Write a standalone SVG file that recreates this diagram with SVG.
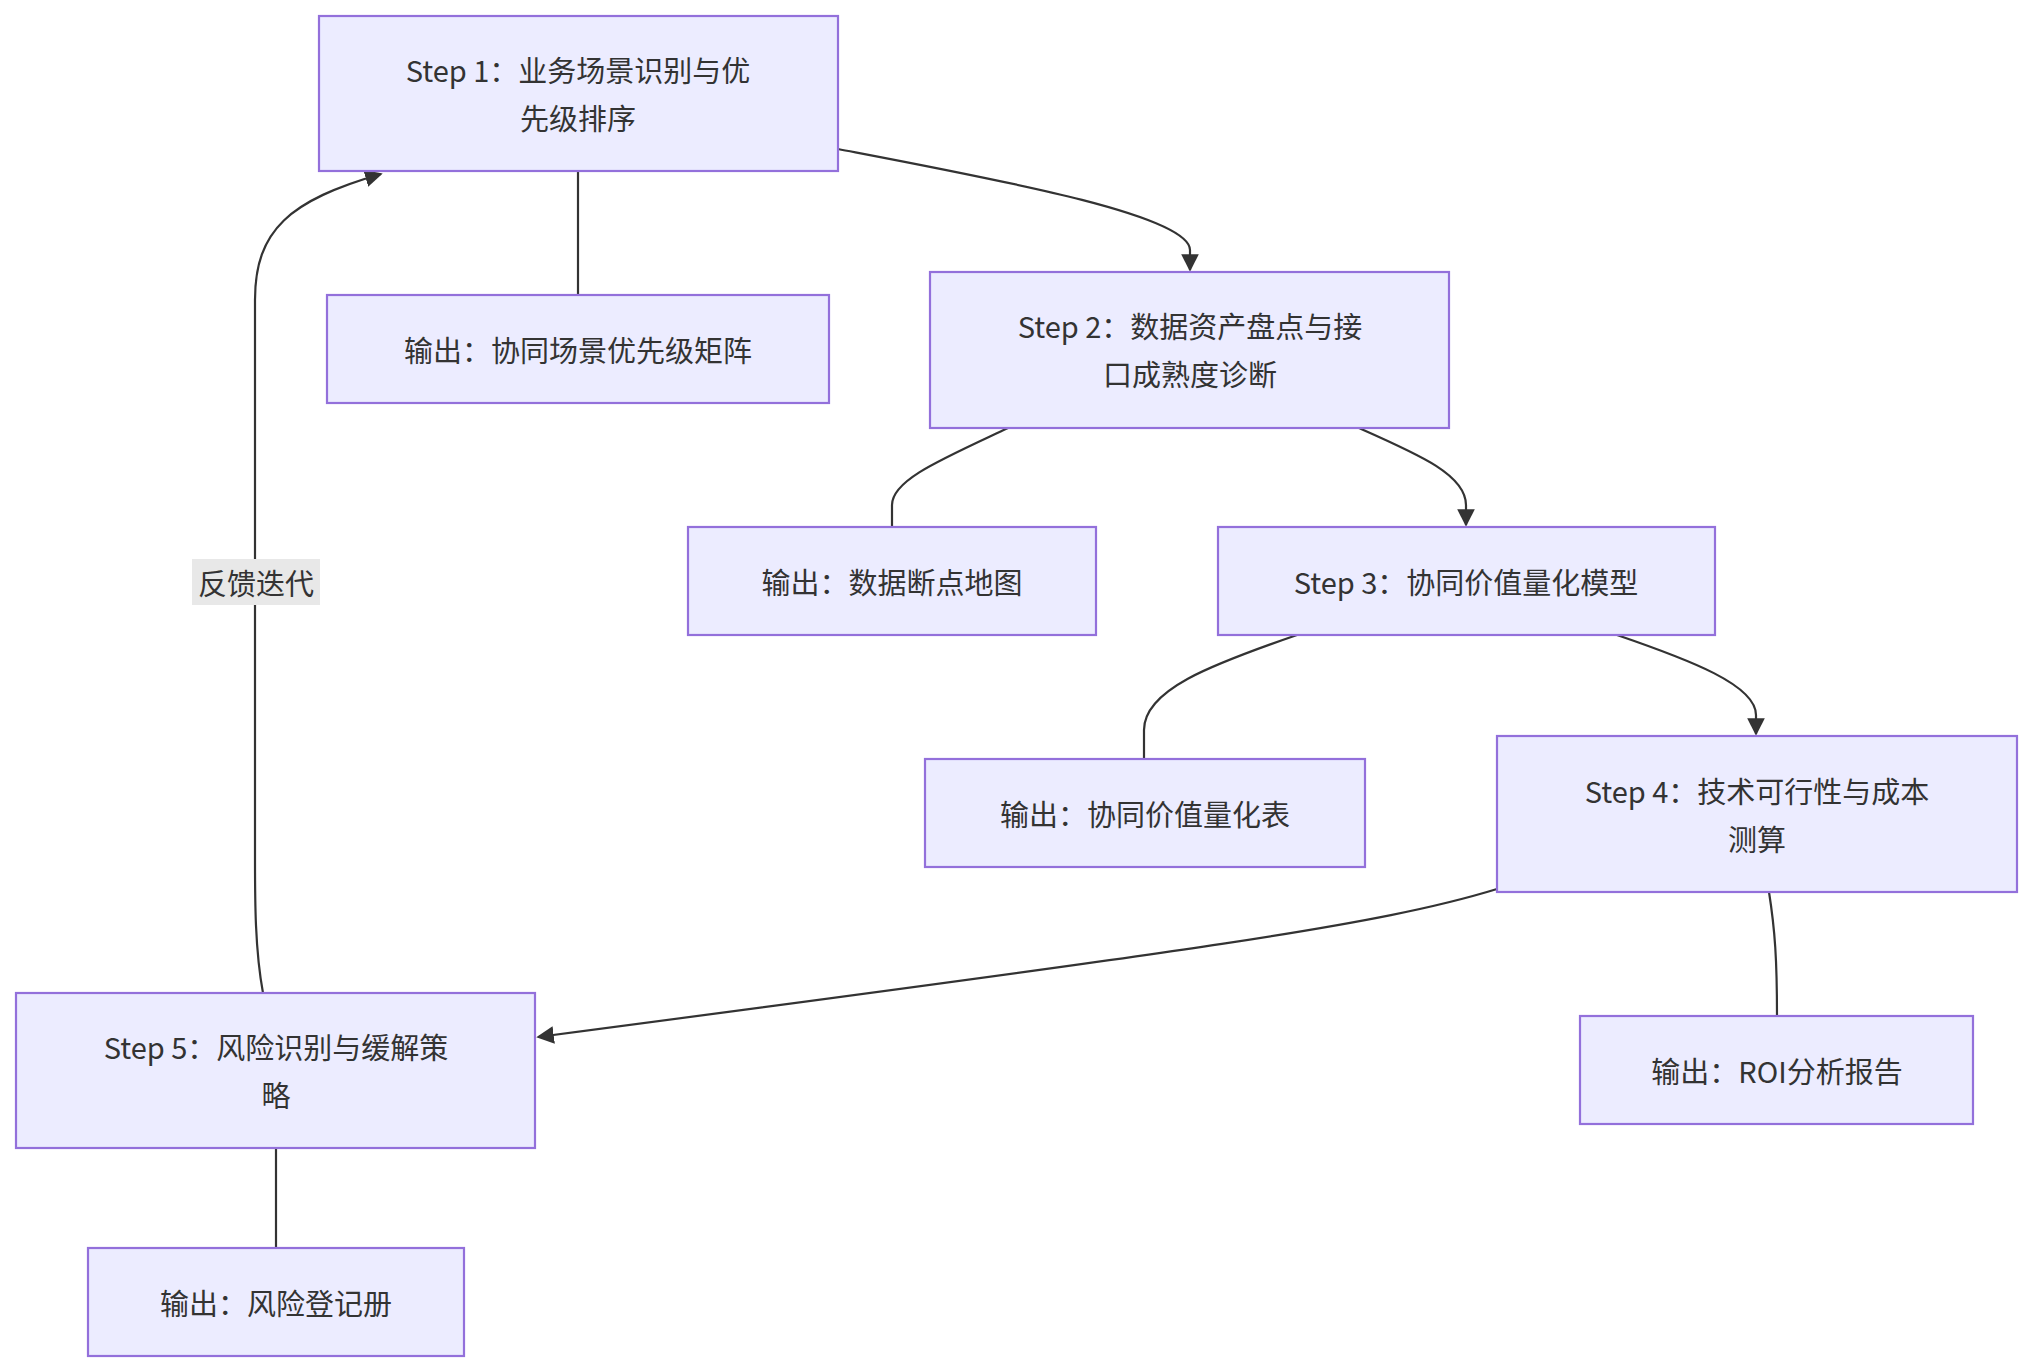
<svg xmlns="http://www.w3.org/2000/svg" width="2032" height="1372" viewBox="0 0 2032 1372">
<style>
.n{fill:#ECECFF;stroke:#9370DB;stroke-width:2.2}
.t{font-family:"Noto Sans CJK SC","Noto Sans",sans-serif;font-size:29px;fill:#333;text-anchor:middle;dominant-baseline:central}
.e{fill:none;stroke:#333;stroke-width:2.2}
</style>
<defs><marker id="a" viewBox="0 0 10 10" refX="9" refY="5" markerWidth="8" markerHeight="8" orient="auto-start-reverse"><path d="M0,0L10,5L0,10z" fill="#333"/></marker></defs>
<rect width="2032" height="1372" fill="#fff"/>
<g id="edges">
<path class="e" d="M838,149 C1000,180 1190,215 1190,250 L1190,270" marker-end="url(#a)"/>
<path class="e" d="M578,171 L578,295"/>
<path class="e" d="M1008,428 C940,460 892,480 892,505 L892,527"/>
<path class="e" d="M1359,428 C1420,455 1466,475 1466,505 L1466,525" marker-end="url(#a)"/>
<path class="e" d="M1297,635 C1210,665 1144,690 1144,730 L1144,759"/>
<path class="e" d="M1617,635 C1690,660 1756,685 1756,715 L1756,734" marker-end="url(#a)"/>
<path class="e" d="M1769,892 C1775,930 1777,960 1777,1016"/>
<path class="e" d="M1497,889 C1380,925 1200,950 538,1037" marker-end="url(#a)"/>
<path class="e" d="M276,1148 L276,1248"/>
<path class="e" d="M263,993 C255,950 255,900 255,860 L255,300 C255,230 290,200 381,174" marker-end="url(#a)"/>
<rect x="192" y="559" width="128" height="46" fill="#e8e8e8"/>
<text class="t" x="256" y="582">反馈迭代</text>
</g>
<g id="s1"><rect class="n" x="319" y="16" width="519" height="155"/><text class="t" x="578" y="69">Step 1：业务场景识别与优</text><text class="t" x="578" y="117">先级排序</text></g>
<g id="o1"><rect class="n" x="327" y="295" width="502" height="108"/><text class="t" x="578" y="349">输出：协同场景优先级矩阵</text></g>
<g id="s2"><rect class="n" x="930" y="272" width="519" height="156"/><text class="t" x="1190" y="325">Step 2：数据资产盘点与接</text><text class="t" x="1190" y="373">口成熟度诊断</text></g>
<g id="o2"><rect class="n" x="688" y="527" width="408" height="108"/><text class="t" x="892" y="581">输出：数据断点地图</text></g>
<g id="s3"><rect class="n" x="1218" y="527" width="497" height="108"/><text class="t" x="1466" y="581">Step 3：协同价值量化模型</text></g>
<g id="o3"><rect class="n" x="925" y="759" width="440" height="108"/><text class="t" x="1145" y="813">输出：协同价值量化表</text></g>
<g id="s4"><rect class="n" x="1497" y="736" width="520" height="156"/><text class="t" x="1757" y="790">Step 4：技术可行性与成本</text><text class="t" x="1757" y="838">测算</text></g>
<g id="o4"><rect class="n" x="1580" y="1016" width="393" height="108"/><text class="t" x="1777" y="1070">输出：ROI分析报告</text></g>
<g id="s5"><rect class="n" x="16" y="993" width="519" height="155"/><text class="t" x="276" y="1046">Step 5：风险识别与缓解策</text><text class="t" x="276" y="1094">略</text></g>
<g id="o5"><rect class="n" x="88" y="1248" width="376" height="108"/><text class="t" x="276" y="1302">输出：风险登记册</text></g>
</svg>
